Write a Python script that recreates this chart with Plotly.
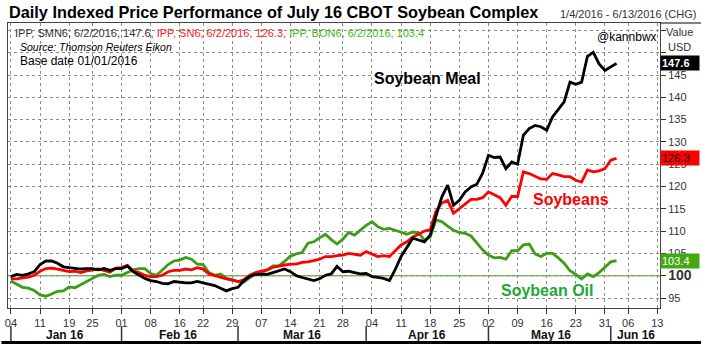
import plotly.graph_objects as go
import pandas as pd

# ---------------- data ----------------
holidays = ["2016-01-18", "2016-02-15", "2016-03-25", "2016-05-30"]
dates = pd.bdate_range("2016-01-04", "2016-06-02", freq="C", holidays=holidays)

soybean_meal = [
    99.8, 100.3, 100.1, 100.4, 100.9, 102.5, 103.3, 103.3, 102.8, 102.0,
    101.8, 101.6, 101.5, 101.6, 101.6, 101.3, 101.6, 101.2, 101.6, 101.6,
    102.2, 100.9, 100.1, 99.4, 98.9, 98.7, 98.3, 98.2, 98.7, 98.5,
    98.4, 98.4, 98.7, 98.4, 98.1, 97.8, 97.2, 96.6, 97.1, 97.4,
    98.9, 99.85, 100.3, 100.3, 100.3, 100.7, 101.1, 101.5, 100.9, 100.0,
    99.6, 99.3, 98.9, 99.3, 100.1, 100.4, 102.1, 100.9, 101.0, 100.7,
    100.4, 100.5, 99.8, 99.6, 99.4, 98.9, 101.4, 104.3, 106.5, 108.4,
    108.0, 107.6, 109.1, 113.2, 117.7, 120.3, 115.8, 116.9, 118.8, 119.9,
    120.5, 123.0, 127.0, 126.5, 126.6, 124.0, 125.5, 125.0, 131.5, 133.0,
    133.7, 133.4, 132.6, 135.6, 137.2, 139.0, 143.4, 142.9, 143.4, 149.2,
    150.1, 147.5, 146.0, 146.9, 147.6,
]
soybeans = [
    99.3, 99.3, 99.5, 99.7, 100.1, 101.0, 101.6, 101.7, 101.5, 101.2,
    100.9, 101.0, 100.7, 101.1, 101.3, 101.5, 101.2, 100.8, 101.7, 101.8,
    102.3, 101.1, 100.7, 100.1, 99.8, 99.8, 100.1, 100.9, 101.2, 101.2,
    101.5, 101.3, 101.8, 101.5, 100.4, 100.0, 99.6, 99.3, 99.0, 98.7,
    99.1, 100.1, 100.7, 101.0, 101.3, 101.9, 102.2, 102.4, 102.6, 102.6,
    103.0, 103.1, 103.4, 103.7, 104.3, 104.3, 104.5, 104.6, 105.0, 104.8,
    104.6, 105.4, 104.9, 104.3, 104.5, 104.3, 105.6, 106.9, 107.6, 108.7,
    109.3, 110.0, 110.3, 114.5, 116.3, 116.9, 114.0, 115.1, 116.2, 117.1,
    117.1, 117.5, 118.8, 118.1, 117.5, 115.8, 117.8, 117.7, 123.3, 122.9,
    122.3, 121.7, 121.6, 122.9, 122.6, 122.2, 122.2, 121.4, 121.0, 123.7,
    123.3, 123.5, 124.0, 125.9, 126.3,
]
soybean_oil = [
    98.8, 98.1, 97.4, 97.2, 96.7, 95.7, 95.4, 95.9, 96.5, 96.6,
    97.5, 97.3, 98.0, 98.7, 99.4, 100.1, 100.3, 99.8, 100.1, 100.1,
    100.7, 101.3, 101.6, 101.6, 100.5, 100.1, 101.3, 102.5, 103.3, 103.5,
    104.1, 103.7, 102.6, 102.5, 100.7, 100.1, 100.4, 99.4, 99.1, 98.7,
    98.5, 99.6, 100.5, 100.6, 101.3, 102.2, 102.2, 103.2, 104.4, 104.9,
    105.2, 107.3, 107.6, 108.5, 109.3, 108.1, 107.1, 108.2, 109.7, 109.1,
    110.2, 111.3, 112.1, 111.0, 110.4, 110.6, 110.2, 109.8, 109.3, 109.8,
    109.6, 108.0, 108.7, 112.5, 112.1, 111.1, 110.2, 109.7, 109.5, 108.9,
    107.4, 105.8, 104.6, 104.0, 104.1, 103.7, 105.6, 105.6, 106.9, 107.1,
    104.9, 104.3, 105.0, 105.0, 104.0, 102.8, 101.1, 100.3, 99.3, 100.4,
    99.8, 100.7, 101.9, 103.1, 103.4,
]

x_tick_dates = ["2016-01-04", "2016-01-11", "2016-01-19", "2016-01-25",
                "2016-02-01", "2016-02-08", "2016-02-16", "2016-02-22", "2016-02-29",
                "2016-03-07", "2016-03-14", "2016-03-21", "2016-03-28",
                "2016-04-04", "2016-04-11", "2016-04-18", "2016-04-25",
                "2016-05-02", "2016-05-09", "2016-05-16", "2016-05-23", "2016-05-31",
                "2016-06-06", "2016-06-13"]
x_tick_labels = ["04", "11", "19", "25", "01", "08", "16", "22", "29",
                 "07", "14", "21", "28", "04", "11", "18", "25",
                 "02", "09", "16", "23", "31", "06", "13"]
month_starts = ["2016-01-04", "2016-02-01", "2016-03-01", "2016-04-01", "2016-05-02", "2016-06-01"]
month_label_pos = ["2016-01-15 05:00", "2016-02-12 16:00", "2016-03-15 22:00",
                   "2016-04-15 11:00", "2016-05-16 16:00", "2016-06-07 10:00"]
month_labels = ["Jan 16", "Feb 16", "Mar 16", "Apr 16", "May 16", "Jun 16"]

y_ticks = [95, 100, 105, 110, 115, 120, 125, 130, 135, 140, 145, 150, 155]
y_tick_text = ["95", "<span style='font-size:14px'><b>100</b></span>", "105", "110", "115",
               "120", "125", "130", "135", "140", "145", "", ""]

BLACK = "#000000"
RED = "#ff0000"
GREEN = "#3c9c14"
FONT = "Liberation Sans, Arial, sans-serif"

fig = go.Figure()
fig.add_trace(go.Scatter(x=dates, y=soybean_oil, mode="lines",
                         line=dict(color=GREEN, width=2.8), name="Soybean Oil"))
fig.add_trace(go.Scatter(x=dates, y=soybeans, mode="lines",
                         line=dict(color=RED, width=2.8), name="Soybeans"))
fig.add_trace(go.Scatter(x=dates, y=soybean_meal, mode="lines",
                         line=dict(color=BLACK, width=2.8), name="Soybean Meal"))

grid = "#8c8c8c"
fig.update_layout(
    width=701, height=344,
    margin=dict(l=5, r=41, t=23, b=36),
    paper_bgcolor="white", plot_bgcolor="white",
    showlegend=False,
    font=dict(family=FONT, color="#000"),
    xaxis=dict(
        type="date",
        range=["2016-01-01 12:00", "2016-06-13 11:00"],
        rangebreaks=[dict(bounds=["sat", "mon"]), dict(values=holidays)],
        tickmode="array", tickvals=x_tick_dates, ticktext=x_tick_labels,
        ticks="outside", ticklen=5, tickcolor="#333", tickwidth=1,
        tickfont=dict(size=11, color="#333"),
        showgrid=True, gridcolor=grid, griddash="3px,3px", gridwidth=1,
        showline=True, linecolor="#444", linewidth=1, mirror=True,
        zeroline=False,
    ),
    yaxis=dict(
        side="right",
        range=[92.76, 156.66],
        tickmode="array", tickvals=y_ticks, ticktext=y_tick_text,
        ticks="outside", ticklen=5, tickcolor="#333",
        tickfont=dict(size=11, color="#333"),
        showgrid=True, gridcolor=grid, griddash="3px,3px", gridwidth=1,
        showline=True, linecolor="#444", linewidth=1, mirror=True,
        zeroline=False,
    ),
)

shapes = []
# 100 reference line
shapes.append(dict(type="line", xref="paper", x0=0, x1=1, yref="y", y0=100, y1=100,
                   line=dict(color="#78c850", width=1.5), layer="between"))
# month separators
for d in month_starts:
    shapes.append(dict(type="line", xref="x", x0=d, x1=d, yref="paper", y0=-0.063, y1=-0.13,
                       line=dict(color="#333", width=1.5)))
# bottom frame line
shapes.append(dict(type="line", xref="paper", x0=-0.01, x1=1.07, yref="paper", y0=-0.121, y1=-0.121,
                   line=dict(color="#000", width=3)))
# top frame line over the value column
shapes.append(dict(type="line", xref="paper", x0=1, x1=1.07, yref="paper", y0=1, y1=1,
                   line=dict(color="#000", width=1)))
fig.update_layout(shapes=shapes)

ann = []
ann.append(dict(xref="paper", yref="paper", x=-0.002, y=1.0386, xanchor="left", yanchor="middle",
                text="<b>Daily Indexed Price Performance of July 16 CBOT Soybean Complex</b>",
                showarrow=False, font=dict(size=16.3, color="#000", family=FONT)))
ann.append(dict(xref="paper", yref="paper", x=1.058, y=1.0316, xanchor="right", yanchor="middle",
                text="1/4/2016 - 6/13/2016 (CHG)", showarrow=False,
                font=dict(size=11, color="#333", family=FONT)))
ann.append(dict(xref="paper", yref="paper", x=0.0076, y=0.965, xanchor="left", yanchor="middle",
                text=("<span style='color:#333'>IPP, SMN6, 6/2/2016, 147.6, </span>"
                      "<span style='color:#ff2020'>IPP, SN6, 6/2/2016, 126.3, </span>"
                      "<span style='color:#44bb22'>IPP, BON6, 6/2/2016, 103.4</span>"),
                showarrow=False, font=dict(size=11, family=FONT)))
ann.append(dict(xref="paper", yref="paper", x=0.0153, y=0.9175, xanchor="left", yanchor="middle",
                text="<i>Source: Thomson Reuters Eikon</i>", showarrow=False,
                font=dict(size=10.5, color="#000", family=FONT)))
ann.append(dict(xref="paper", yref="paper", x=0.0153, y=0.8667, xanchor="left", yanchor="middle",
                text="Base date 01/01/2016", showarrow=False,
                font=dict(size=12, color="#000", family=FONT)))
ann.append(dict(xref="paper", yref="paper", x=0.9496, y=0.951, xanchor="center", yanchor="middle",
                text="@kannbwx", showarrow=False, font=dict(size=12, color="#000", family=FONT)))
ann.append(dict(xref="paper", yref="paper", x=1.0305, y=0.968, xanchor="center", yanchor="middle",
                text="Value", showarrow=False, font=dict(size=11, color="#333", family=FONT)))
ann.append(dict(xref="paper", yref="paper", x=1.0305, y=0.916, xanchor="center", yanchor="middle",
                text="USD", showarrow=False, font=dict(size=11, color="#333", family=FONT)))
# series labels
ann.append(dict(xref="paper", yref="paper", x=0.643, y=0.807, xanchor="center", yanchor="middle",
                text="<b>Soybean Meal</b>", showarrow=False, font=dict(size=16, color=BLACK, family=FONT)))
ann.append(dict(xref="paper", yref="paper", x=0.864, y=0.379, xanchor="center", yanchor="middle",
                text="<b>Soybeans</b>", showarrow=False, font=dict(size=16, color=RED, family=FONT)))
ann.append(dict(xref="paper", yref="paper", x=0.827, y=0.061, xanchor="center", yanchor="middle",
                text="<b>Soybean Oil</b>", showarrow=False, font=dict(size=16, color="#22a83a", family=FONT)))
# last value boxes
for val, bg, fg in [(soybean_meal[-1], "#000000", "#ffffff"),
                    (soybeans[-1], "#ff0000", "#111111"),
                    (soybean_oil[-1], "#44a814", "#ffffff")]:
    ann.append(dict(xref="paper", yref="y", x=1.0, y=val, xanchor="left", yanchor="middle",
                    text=f"<b>{val:.1f}</b>" if bg == "#000000" else f"{val:.1f}",
                    showarrow=False, bgcolor=bg, width=36, align="left", borderpad=1,
                    font=dict(size=11, color=fg, family=FONT)))
# month labels
for d, lab in zip(month_label_pos, month_labels):
    ann.append(dict(xref="x", yref="paper", x=d, y=-0.0947, xanchor="center", yanchor="middle",
                    text=f"<b>{lab}</b>", showarrow=False, font=dict(size=12, color="#111", family=FONT)))
fig.update_layout(annotations=ann)

fig.write_html("out.html")
